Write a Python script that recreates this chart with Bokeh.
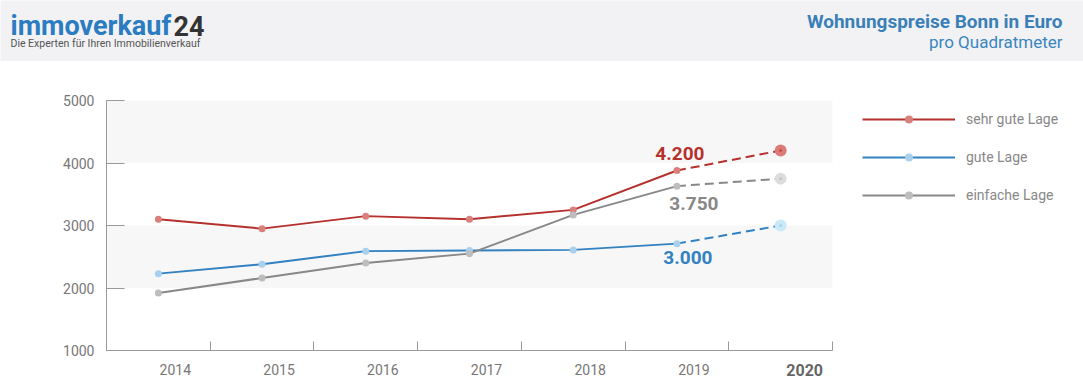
from bokeh.plotting import figure
from bokeh.models import Range1d, FixedTicker, Legend, LegendItem
from bokeh.layouts import column
from bokeh.core.properties import value
from bokeh.embed import file_html
from bokeh.resources import INLINE

# ---- data ----
years = ["2014", "2015", "2016", "2017", "2018", "2019", "2020"]
sehr_gute_lage = [3100, 2950, 3150, 3100, 3250, 3880, 4200]
gute_lage = [2230, 2380, 2590, 2600, 2610, 2710, 3000]
einfache_lage = [1920, 2160, 2400, 2550, 3170, 3630, 3750]
series_names = ["sehr gute Lage", "gute Lage", "einfache Lage"]
y_ticks = [1000, 2000, 3000, 4000, 5000]

FONT = "Roboto"
W = 1083
LEFT = 106          # left edge of the plot area (px)
AXIS_END = 832      # right end of the x axis (px); legend lives to the right of it

# ---- header ----
h = figure(width=W, height=61, x_range=Range1d(0, W), y_range=Range1d(61, 0),
           output_backend="svg", toolbar_location=None,
           min_border=0, min_border_left=0, min_border_right=0, min_border_top=0, min_border_bottom=0)
h.frame_align = False
h.axis.visible = False
h.grid.visible = False
h.outline_line_color = None
h.background_fill_color = "#f2f2f4"
h.border_fill_color = "#f2f2f4"
h.text(x=[10], y=[25], text=["immoverkauf"], text_font=value(FONT), text_font_style="bold",
       text_font_size="27px", text_color="#2b7cc0", text_baseline="middle", text_align="left")
h.text(x=[173], y=[25], text=["24"], text_font=value(FONT), text_font_style="bold",
       text_font_size="27px", text_color="#333333", text_baseline="middle", text_align="left")
h.text(x=[10], y=[43], text=["Die Experten für Ihren Immobilienverkauf"], text_font=value(FONT),
       text_font_size="10.5px", text_color="#555555", text_baseline="middle", text_align="left")
h.text(x=[1062], y=[21], text=["Wohnungspreise Bonn in Euro"], text_font=value(FONT),
       text_font_style="bold", text_font_size="19px", text_color="#3a80b8",
       text_baseline="middle", text_align="right")
h.text(x=[1062], y=[41.5], text=["pro Quadratmeter"], text_font=value(FONT),
       text_font_size="17px", text_color="#3a86c0", text_baseline="middle", text_align="right")

# ---- chart ----
n = len(years)
xs = [i + 0.5 for i in range(n)]
x_end = n * (W - LEFT) / (AXIS_END - LEFT)
xr = Range1d(0, x_end)
p = figure(width=W, height=301, x_range=xr, y_range=Range1d(y_ticks[0], y_ticks[-1]),
           output_backend="svg", toolbar_location=None,
           min_border_left=LEFT, min_border_right=0, min_border_top=39, min_border_bottom=12)
p.outline_line_color = None
p.background_fill_color = "white"
p.border_fill_color = "white"
p.grid.visible = False

# alternating light bands 2000-3000 and 4000-5000
p.quad(left=0, right=n, bottom=y_ticks[1::2], top=y_ticks[2::2],
       fill_color="#f7f7f7", line_color=None)

p.yaxis.ticker = FixedTicker(ticks=y_ticks, minor_ticks=[])
p.yaxis.major_tick_in = 18
p.yaxis.major_tick_out = 0
p.yaxis.major_tick_line_color = "#999999"
p.yaxis.axis_line_color = "#999999"
p.yaxis.minor_tick_line_color = None
p.yaxis.major_label_text_color = "#777777"
p.yaxis.major_label_text_font = FONT
p.yaxis.major_label_text_font_size = "14px"
p.yaxis.major_label_standoff = 12

p.xaxis.bounds = (0, n)
p.xaxis.ticker = FixedTicker(ticks=[], minor_ticks=list(range(n + 1)))
p.xaxis.major_tick_line_color = None
p.xaxis.minor_tick_in = 9
p.xaxis.minor_tick_out = 0
p.xaxis.minor_tick_line_color = "#999999"
p.xaxis.axis_line_color = "#999999"
p.xaxis.major_label_text_font_size = "0px"
p.xaxis.major_label_standoff = 0

styles = [
    (sehr_gute_lage, "#b5312d", "#d9807d", "#da7b79", "#c0504f", (3, 3)),
    (gute_lage, "#3281c0", "#a9d1ee", "#cbe8f7", "#a8d4f0", (11, 32)),
    (einfache_lage, "#888888", "#bdbdbd", "#dddddd", "#c4c4c4", (17, 25)),
]
items = []
for name, (vals, lc, dc, hc, cc, off) in zip(series_names, styles):
    lr = p.line(xs[:-1], vals[:-1], line_width=2, line_color=lc)
    p.line(xs[-2:], vals[-2:], line_width=2, line_color=lc, line_dash="9 5")
    sr = p.scatter(xs[:-1], vals[:-1], size=7, fill_color=dc, line_color=None)
    p.scatter(xs[-1:], vals[-1:], size=12, fill_color=hc, line_color=None)
    p.scatter(xs[-1:], vals[-1:], size=3, fill_color=cc, line_color=None)
    txt = f"{vals[-1]:,}".replace(",", ".")
    p.text(x=[xs[-2]], y=[vals[-1]], text=[txt], x_offset=off[0], y_offset=off[1],
           text_font=value(FONT), text_font_style="bold", text_font_size="19px",
           text_color=lc, text_align="center", text_baseline="middle")
    items.append(LegendItem(label=name, renderers=[lr, sr]))

legend = Legend(items=items, location=(756, 145), orientation="vertical",
                glyph_width=93, glyph_height=20, label_height=20, spacing=18,
                label_standoff=11, padding=0, margin=0,
                border_line_color=None, background_fill_alpha=0,
                label_text_font=FONT, label_text_font_size="14px", label_text_color="#888888")
p.add_layout(legend, "center")

# ---- year labels row ----
b = figure(width=W, height=18, x_range=xr, y_range=Range1d(18, 0),
           output_backend="svg", toolbar_location=None,
           min_border_left=LEFT, min_border_right=0, min_border_top=0, min_border_bottom=0)
b.axis.visible = False
b.grid.visible = False
b.outline_line_color = None
b.text(x=xs[:-1], y=[7] * (n - 1), text=years[:-1], x_offset=17,
       text_font=value(FONT), text_font_size="14px", text_color="#777777",
       text_align="center", text_baseline="middle")
b.text(x=xs[-1:], y=[7], text=years[-1:], x_offset=24,
       text_font=value(FONT), text_font_style="bold", text_font_size="16px", text_color="#666666",
       text_align="center", text_baseline="middle")

layout = column(h, p, b, spacing=0)
open("out.html", "w").write(file_html(layout, INLINE))
